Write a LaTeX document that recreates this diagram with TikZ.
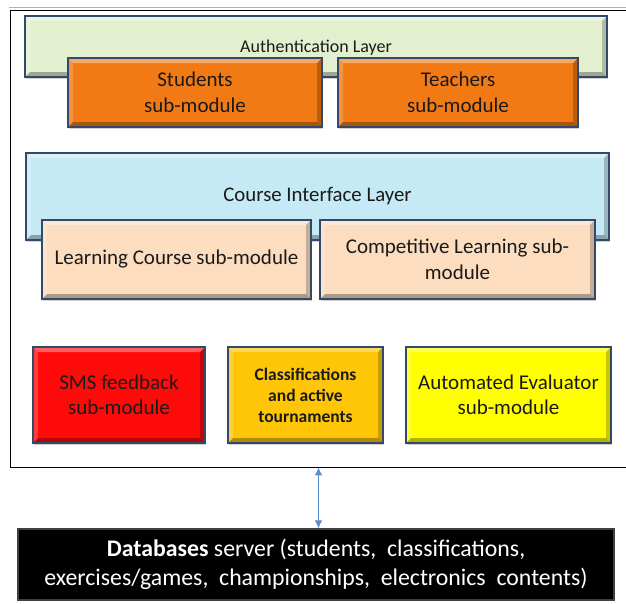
\documentclass[tikz,border=0pt]{standalone}
\usepackage{fontspec}
\setmainfont{Carlito}
\usetikzlibrary{calc,shadows,arrows.meta}
\definecolor{authgreen}{HTML}{E3F0CF}
\definecolor{modorange}{HTML}{F27A14}
\definecolor{layercyan}{HTML}{C5E9F5}
\definecolor{peach}{HTML}{FCDDBF}
\definecolor{smsred}{HTML}{FF0A0A}
\definecolor{gold}{HTML}{FFC608}
\definecolor{yel}{HTML}{FFFF00}
\definecolor{bord}{HTML}{34496A}
\definecolor{txt}{HTML}{1A1A1A}
\definecolor{arrblue}{HTML}{5B8BD0}
\tikzset{
  bevel/.style={path picture={
    \path (path picture bounding box.north west) coordinate (pnw)
          (path picture bounding box.north east) coordinate (pne)
          (path picture bounding box.south west) coordinate (psw)
          (path picture bounding box.south east) coordinate (pse);
    \fill[white,opacity=.35] (pnw) -- (pne) -- ($(pne)+(-5pt,-5pt)$) -- ($(pnw)+(5pt,-5pt)$) -- cycle;
    \fill[white,opacity=.2] (pnw) -- ($(pnw)+(5pt,-5pt)$) -- ($(psw)+(5pt,5pt)$) -- (psw) -- cycle;
    \fill[black,opacity=.3] (psw) -- (pse) -- ($(pse)+(-5pt,5pt)$) -- ($(psw)+(5pt,5pt)$) -- cycle;
    \fill[black,opacity=.22] (pne) -- (pse) -- ($(pse)+(-5pt,5pt)$) -- ($(pne)+(-5pt,-5pt)$) -- cycle;
  }},
  box/.style={draw=bord, line width=2pt, bevel, inner sep=0pt, align=center,
    text=txt, font=\fontsize{21}{25.5}\selectfont,
    drop shadow={shadow xshift=1pt, shadow yshift=-2pt, opacity=.35}},
  arr/.style={arrblue, line width=1.3pt, {Latex[length=8pt,width=8pt]}-{Latex[length=8pt,width=8pt]}}
}
\begin{document}
\begin{tikzpicture}[x=1pt,y=-1pt]
\useasboundingbox[fill=white] (0,0) rectangle (626,603);
% top rule and outer frame
\draw[gray!60, line width=1pt] (9,7) -- (626,7);
\node[draw=black, line width=0.9pt, minimum width=617pt, minimum height=457pt, inner sep=0pt] (frame) at (318.5,238.5) {};
% authentication layer
\node[box, fill=authgreen, minimum width=582pt, minimum height=61pt, font=\fontsize{18}{21}\selectfont, text depth=-2pt] (auth) at (316,46.5) {Authentication Layer};
\node[box, fill=modorange, minimum width=254pt, minimum height=69pt] (stud) at (195,92.5) {Students\\sub-module};
\node[box, fill=modorange, minimum width=240pt, minimum height=69pt] (teach) at (458,92.5) {Teachers\\sub-module};
% course interface layer
\node[box, fill=layercyan, minimum width=583pt, minimum height=87pt, font=\fontsize{20.8}{24}\selectfont] (course) at (317.5,196.5) {Course Interface Layer};
\node[box, fill=peach, minimum width=269pt, minimum height=79pt] (learn) at (176.5,259.5) {Learning Course sub-module};
\node[box, fill=peach, minimum width=275pt, minimum height=79pt] (comp) at (457.5,259.5) {Competitive Learning sub-\\module};
% bottom modules
\node[box, fill=smsred, minimum width=172pt, minimum height=96pt] (sms) at (119,395) {SMS feedback\\sub-module};
\node[box, fill=gold, minimum width=155pt, minimum height=96pt, font=\bfseries\fontsize{17.5}{21}\selectfont] (class) at (305.5,395) {Classifications\\and active\\tournaments};
\node[box, fill=yel, minimum width=205pt, minimum height=96pt] (auto) at (508.5,395) {Automated Evaluator\\sub-module};
% database
\node[fill=black, draw=gray!50!black, line width=1.5pt, minimum width=596pt, minimum height=71pt, inner sep=0pt, align=center, text=white, font=\fontsize{23.8}{29.5}\selectfont] (db) at (316,564.5) {{\bfseries Databases} server (students,\ \ classifications,\\exercises/games,\ \ championships,\ \ electronics\ \ contents)};
\draw[arr] (frame.south) -- (frame.south |- db.north);
\end{tikzpicture}
\end{document}
